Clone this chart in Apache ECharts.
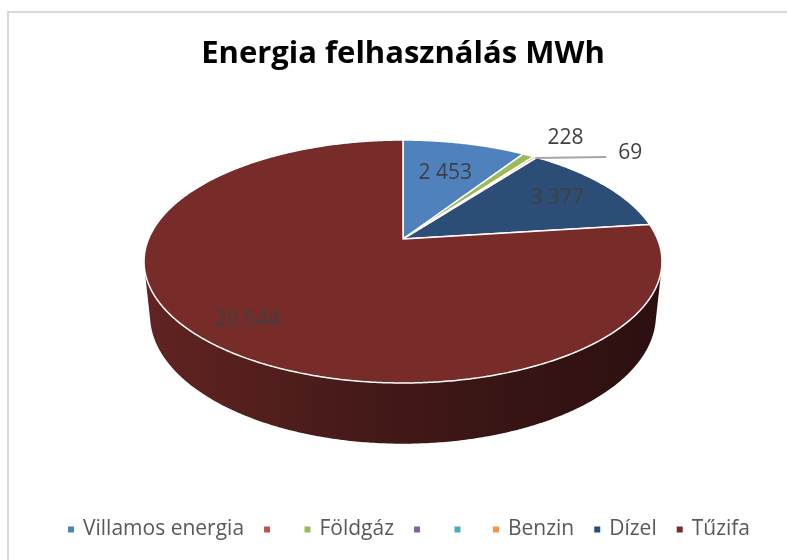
<!DOCTYPE html>
<html><head><meta charset="utf-8">
<script src="https://cdn.jsdelivr.net/npm/echarts@6/dist/echarts.min.js"></script>
<style>html,body{margin:0;padding:0;background:#fff}#c{width:787px;height:560px}</style>
</head><body><div id="c"></div>
<script>
// ---- data ----
const categories = ['Villamos energia', ' ', 'Földgáz', '\u00A0', '\u2009', 'Benzin', 'Dízel', 'Tűzifa'];
const values = [2453, null, 228, null, null, 69, 3377, 20544];
const titleText = 'Energia felhasználás MWh';

// ---- style ----
const colors = ['#4F81BD', '#C0504D', '#9BBB59', '#8064A2', '#4BACC6', '#F79646', '#2C4D75', '#772C2A'];
const labelLayout = [
  {mode: 'in', r: 0.65}, null, {mode: 'out', dx: 37, dy: -17}, null, null,
  {mode: 'leader', len: 71, gap: 12, dy: -4}, {mode: 'in', r: 0.75}, {mode: 'in', r: 0.82}
];
const VIEW = {cx: 403, cy: 239, F: 1219, D: 4.79, el: 27.45 * Math.PI / 180, t: 0.24};
const FONT = '"Open Sans", "Noto Sans", sans-serif';

const total = values.reduce((s, v) => s + (v || 0), 0);
const starts = [];
(function () { let acc = 0; values.forEach((v, i) => { starts[i] = acc / total * 360; acc += (v || 0); }); })();

function proj(phiDeg, r, y) {
  const a = phiDeg * Math.PI / 180;
  const x = r * Math.sin(a), z = -r * Math.cos(a);
  const s = Math.sin(VIEW.el), c = Math.cos(VIEW.el);
  const depth = VIEW.D - y * s - z * c;
  return [VIEW.cx + x * VIEW.F / depth, VIEW.cy - (y * c - z * s) * VIEW.F / depth];
}
function shade(hex, k) {
  const n = parseInt(hex.slice(1), 16);
  const r = Math.round(((n >> 16) & 255) * k), g = Math.round(((n >> 8) & 255) * k), b = Math.round((n & 255) * k);
  return 'rgb(' + r + ',' + g + ',' + b + ')';
}
function fmt(v) { return String(v).replace(/\B(?=(\d{3})+(?!\d))/g, ' '); }

function renderSlice(i, api) {
  const v = api.value(0);
  const children = [];
  if (!v) return {type: 'group', children};
  const a0 = starts[i], a1 = a0 + v / total * 360;
  const steps = Math.max(2, Math.ceil((a1 - a0) / 0.5));
  // visible outer wall: cos(phi) < -1/(D cos el)
  const lim = Math.acos(-1 / (VIEW.D * Math.cos(VIEW.el))) * 180 / Math.PI;
  const w0 = Math.max(a0, lim), w1 = Math.min(a1, 360 - lim);
  if (w1 > w0) {
    const n = Math.max(2, Math.ceil((w1 - w0) / 0.5));
    const top = [], bot = [];
    for (let k = 0; k <= n; k++) {
      const p = w0 + (w1 - w0) * k / n;
      top.push(proj(p, 1, 0));
      bot.push(proj(p, 1, -VIEW.t));
    }
    const left = VIEW.cx - 262, right = VIEW.cx + 262;
    children.push({
      type: 'polygon', z2: 1,
      shape: {points: top.concat(bot.reverse())},
      style: {
        fill: {
          type: 'linear', global: true, x: left, y: 0, x2: right, y2: 0,
          colorStops: [
            {offset: 0, color: shade(colors[i], 0.82)},
            {offset: 0.5, color: shade(colors[i], 0.54)},
            {offset: 1, color: shade(colors[i], 0.36)}
          ]
        }
      }
    });
  }
  // top face
  const pts = [proj(0, 0, 0)];
  for (let k = 0; k <= steps; k++) pts.push(proj(a0 + (a1 - a0) * k / steps, 1, 0));
  children.push({
    type: 'polygon', z2: 10,
    shape: {points: pts},
    style: {fill: colors[i], stroke: '#ffffff', lineWidth: 1.5, lineJoin: 'round'}
  });
  // label
  const L = labelLayout[i];
  const mid = (a0 + a1) / 2;
  const txtStyle = {text: fmt(v), fill: '#404040', fontSize: 21, fontFamily: FONT, verticalAlign: 'middle'};
  if (L && L.mode === 'in') {
    const p = proj(mid, L.r, 0);
    children.push({type: 'text', z2: 20, style: Object.assign({x: p[0], y: p[1], align: 'center'}, txtStyle)});
  } else if (L && L.mode === 'out') {
    const p = proj(mid, 1, 0);
    children.push({type: 'text', z2: 20, style: Object.assign({x: p[0] + L.dx, y: p[1] + L.dy, align: 'center'}, txtStyle)});
  } else if (L && L.mode === 'leader') {
    const p = proj(mid, 1, 0);
    children.push({type: 'line', z2: 15, shape: {x1: p[0], y1: p[1] + 1, x2: p[0] + L.len, y2: p[1]},
      style: {stroke: '#A6A6A6', lineWidth: 2}});
    children.push({type: 'text', z2: 20, style: Object.assign({x: p[0] + L.len + L.gap, y: p[1] + L.dy, align: 'left'}, txtStyle)});
  }
  return {type: 'group', children};
}

const chart = echarts.init(document.getElementById('c'), null, {renderer: 'canvas'});
chart.setOption({
  animation: false,
  backgroundColor: '#ffffff',
  title: {
    text: titleText, left: 398, top: 34, textAlign: 'center',
    textStyle: {fontFamily: FONT, fontWeight: 'bold', fontSize: 31, color: '#000000'}
  },
  graphic: [{
    type: 'rect', silent: true, z: -10,
    shape: {x: 8, y: 12, width: 900, height: 700},
    style: {fill: 'none', stroke: '#D9D9D9', lineWidth: 2}
  }],
  legend: {
    left: 63, top: 514, icon: 'rect', itemWidth: 6, itemHeight: 6, itemGap: 20,
    selectedMode: false, data: categories,
    textStyle: {fontFamily: FONT, fontSize: 21, color: '#595959', padding: [0, 0, 0, 4]}
  },
  series: categories.map((name, i) => ({
    type: 'custom', name: name, coordinateSystem: 'none',
    itemStyle: {color: colors[i]},
    data: [[values[i] == null ? 0 : values[i]]],
    renderItem: (params, api) => renderSlice(i, api)
  }))
});
</script></body></html>
